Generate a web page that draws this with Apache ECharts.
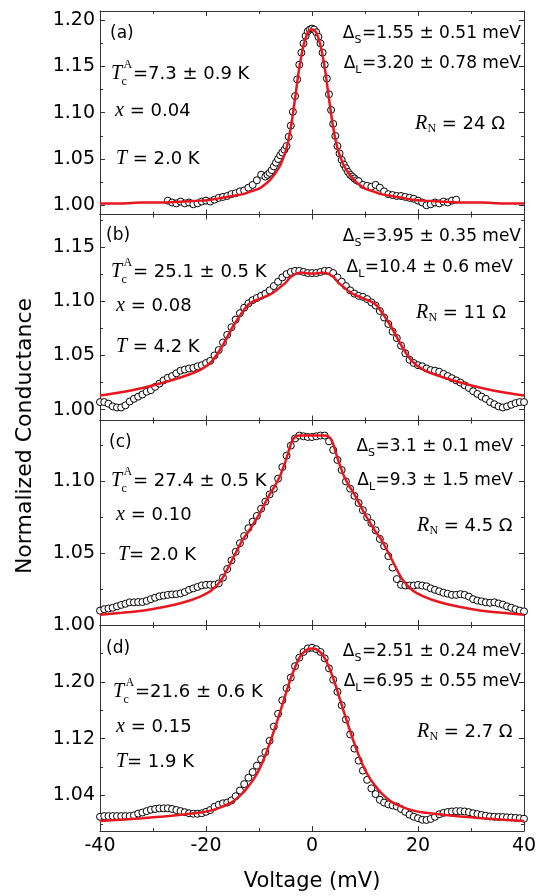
<!DOCTYPE html>
<html><head><meta charset="utf-8">
<script src="https://cdn.jsdelivr.net/npm/echarts@6/dist/echarts.min.js"></script>
<style>html,body{margin:0;padding:0;background:#fff}#c{width:544px;height:896px}</style>
</head><body><div id="c"></div>
<script>
// ---------- data ----------
const voltageA = [-27.2,-26.4,-25.6,-24.8,-24,-23.2,-22.4,-21.6,-20.8,-20,-19.2,-18.4,-17.6,-16.8,-16,-15.2,-14.4,-13.6,-12.8,-12,-11.2,-10.4,-9.6,-8.8,
  -8.4,-8,-7.6,-7.2,-6.8,-6.4,-6,-5.6,-5.2,-4.8,-4.4,-4,-3.6,-3.2,-2.8,-2.4,-2,-1.6,-1.2,-0.8,-0.4,0,0.4,0.8,1.2,1.6,2,2.4,2.8,3.2,3.6,4,4.4,4.8,5.2,5.6,6,6.4,6.8,7.2,7.6,8,8.4,
  8.8,9.6,10.4,11.2,12,12.8,13.6,14.4,15.2,16,16.8,17.6,18.4,19.2,20,20.8,21.6,22.4,23.2,24,24.8,25.6,26.4,27.2];
const condA = [1.005,1.003,1.002,1.004,1.002,1.003,1.001,1.002,1.004,1.005,1.004,1.006,1.008,1.009,1.010,1.012,1.013,1.015,1.016,1.019,1.022,1.027,1.033,1.031,
  1.033,1.035,1.038,1.042,1.046,1.050,1.054,1.057,1.060,1.064,1.074,1.086,1.101,1.118,1.136,1.152,1.165,1.175,1.183,1.188,1.190,1.191,1.190,1.187,1.182,1.175,1.165,1.152,1.137,1.120,1.103,1.088,1.075,1.064,1.056,1.049,1.044,1.040,1.036,1.033,1.031,1.029,1.027,
  1.026,1.022,1.021,1.020,1.022,1.019,1.015,1.012,1.011,1.010,1.010,1.009,1.008,1.007,1.005,1.003,1.000,1.001,1.003,1.002,1.004,1.003,1.005,1.006];

const voltage = [-40,-39.2,-38.4,-37.6,-36.8,-36,-35.2,-34.4,-33.6,-32.8,-32,-31.2,-30.4,-29.6,-28.8,-28,-27.2,-26.4,-25.6,-24.8,-24,-23.2,-22.4,-21.6,-20.8,-20,-19.2,-18.4,-17.6,-16.8,-16,-15.2,-14.4,-13.6,-12.8,-12,-11.2,-10.4,-9.6,-8.8,-8,-7.2,-6.4,-5.6,-4.8,-4,-3.2,-2.4,-1.6,-0.8,
  0,0.8,1.6,2.4,3.2,4,4.8,5.6,6.4,7.2,8,8.8,9.6,10.4,11.2,12,12.8,13.6,14.4,15.2,16,16.8,17.6,18.4,19.2,20,20.8,21.6,22.4,23.2,24,24.8,25.6,26.4,27.2,28,28.8,29.6,30.4,31.2,32,32.8,33.6,34.4,35.2,36,36.8,37.6,38.4,39.2,40];
const condB = [1.007,1.007,1.0055,1.003,1.002,1.002,1.004,1.0075,1.010,1.012,1.014,1.0165,1.018,1.021,1.024,1.027,1.0295,1.031,1.0335,1.036,1.037,1.038,1.0385,1.040,1.041,1.043,1.045,1.050,1.055,1.062,1.069,1.076,1.083,1.089,1.094,1.098,1.101,1.103,1.105,1.107,1.110,1.114,1.118,1.122,1.125,1.127,1.128,1.128,1.127,1.126,
  1.126,1.126,1.127,1.128,1.128,1.126,1.122,1.118,1.114,1.110,1.107,1.105,1.104,1.102,1.099,1.096,1.091,1.085,1.079,1.072,1.066,1.059,1.052,1.046,1.043,1.041,1.040,1.038,1.0365,1.036,1.035,1.033,1.031,1.029,1.027,1.025,1.0225,1.020,1.017,1.0145,1.012,1.010,1.007,1.005,1.003,1.002,1.003,1.0045,1.006,1.007,1.007];
const condC = [1.010,1.011,1.0115,1.012,1.013,1.014,1.0148,1.0158,1.0158,1.016,1.016,1.0168,1.018,1.019,1.020,1.0205,1.021,1.0213,1.0215,1.022,1.023,1.0245,1.0255,1.0265,1.0276,1.028,1.028,1.028,1.029,1.033,1.039,1.045,1.051,1.057,1.062,1.0675,1.072,1.076,1.081,1.086,1.091,1.095,1.102,1.110,1.118,1.125,1.130,1.132,1.1315,1.131,
  1.131,1.1315,1.132,1.132,1.128,1.122,1.115,1.108,1.100,1.095,1.090,1.085,1.080,1.075,1.071,1.066,1.060,1.055,1.048,1.040,1.032,1.028,1.0275,1.0275,1.0275,1.028,1.0275,1.027,1.0255,1.0245,1.0235,1.0225,1.0218,1.021,1.021,1.0215,1.021,1.0198,1.018,1.017,1.0165,1.0158,1.0155,1.0158,1.015,1.0142,1.013,1.012,1.011,1.010,1.0095];
const condD = [1.010,1.011,1.011,1.011,1.011,1.011,1.011,1.011,1.012,1.0145,1.016,1.018,1.020,1.021,1.0218,1.022,1.022,1.021,1.0195,1.018,1.0165,1.015,1.0143,1.0143,1.015,1.017,1.0195,1.024,1.027,1.029,1.030,1.033,1.039,1.047,1.056,1.065,1.073,1.082,1.091,1.101,1.117,1.137,1.155,1.174,1.191,1.206,1.222,1.234,1.242,1.247,
  1.248,1.246,1.242,1.233,1.219,1.203,1.186,1.167,1.147,1.126,1.106,1.089,1.075,1.062,1.050,1.042,1.034,1.030,1.0275,1.026,1.0245,1.021,1.017,1.013,1.010,1.008,1.0058,1.0055,1.007,1.010,1.0135,1.0155,1.0168,1.0175,1.018,1.018,1.0175,1.0165,1.015,1.0138,1.0125,1.0115,1.0105,1.010,1.0098,1.0097,1.0093,1.009,1.0085,1.008,1.0073];

const fitVoltage = [-40,-36,-32,-28,-24,-21,-19,-17,-15,-13,-12,-11,-10,-9,-8,-7,-6,-5.5,-5,-4.5,-4,-3.5,-3,-2.5,-2,-1.5,-1,-0.5,0,0.5,1,1.5,2,2.5,3,3.5,4,4.5,5,5.5,6,7,8,9,10,11,12,13,15,17,19,21,24,28,32,36,40];
const fitA = [1.002,1.002,1.003,1.003,1.004,1.005,1.006,1.008,1.010,1.012,1.014,1.016,1.018,1.022,1.027,1.034,1.043,1.050,1.058,1.069,1.084,1.103,1.124,1.145,1.162,1.175,1.184,1.189,1.190,
  1.189,1.184,1.175,1.162,1.145,1.124,1.103,1.084,1.069,1.058,1.050,1.043,1.034,1.027,1.022,1.018,1.016,1.014,1.012,1.010,1.008,1.006,1.005,1.004,1.003,1.003,1.002,1.002];
const fitB = [1.013,1.016,1.020,1.025,1.031,1.037,1.044,1.058,1.076,1.091,1.097,1.100,1.102,1.104,1.106,1.109,1.113,1.115,1.117,1.120,1.1225,1.124,1.1255,1.126,1.1265,1.126,1.1258,1.1255,1.1255,
  1.1255,1.1258,1.126,1.1265,1.126,1.1255,1.124,1.1225,1.120,1.117,1.115,1.113,1.109,1.106,1.104,1.102,1.100,1.097,1.091,1.076,1.058,1.044,1.037,1.031,1.025,1.020,1.016,1.013];
const fitC = [1.0072,1.0085,1.010,1.0125,1.016,1.020,1.024,1.032,1.046,1.060,1.065,1.071,1.077,1.084,1.091,1.097,1.104,1.109,1.114,1.120,1.126,1.130,1.1315,1.132,1.132,1.132,1.132,1.132,1.132,
  1.132,1.132,1.132,1.132,1.132,1.1315,1.130,1.126,1.120,1.114,1.109,1.104,1.097,1.091,1.084,1.077,1.071,1.065,1.060,1.046,1.032,1.024,1.020,1.016,1.0125,1.010,1.0085,1.0072];
const fitD = [1.004,1.006,1.008,1.0105,1.0135,1.016,1.019,1.024,1.031,1.044,1.053,1.063,1.076,1.093,1.113,1.135,1.158,1.170,1.182,1.194,1.205,1.215,1.224,1.232,1.238,1.242,1.245,1.2465,1.247,
  1.2465,1.245,1.242,1.238,1.232,1.224,1.215,1.205,1.194,1.182,1.170,1.158,1.135,1.113,1.093,1.076,1.063,1.053,1.044,1.031,1.024,1.019,1.016,1.0135,1.0105,1.008,1.006,1.004];

const yMajorA = [1.00,1.05,1.10,1.15,1.20], yMinorA = [1.025,1.075,1.125,1.175];
const yMajorB = [1.00,1.05,1.10,1.15],      yMinorB = [1.025,1.075,1.125,1.175];
const yMajorC = [1.00,1.05,1.10],           yMinorC = [1.025,1.075,1.125];
const yMajorD = [1.04,1.12,1.20],           yMinorD = [1.00,1.08,1.16,1.24];
const yRangeA = [0.99,1.21], yRangeB = [0.99,1.18], yRangeC = [1.00,1.1425], yRangeD = [0.99,1.28];
const xRange = [-40,40], xStep = 20;

// ---------- layout ----------
const panels = [
  {v: voltageA, c: condA, fit: fitA, major: yMajorA, minor: yMinorA, range: yRangeA, top: 11,    h: 203.5},
  {v: voltage,  c: condB, fit: fitB, major: yMajorB, minor: yMinorB, range: yRangeB, top: 214.5, h: 206},
  {v: voltage,  c: condC, fit: fitC, major: yMajorC, minor: yMinorC, range: yRangeC, top: 420.5, h: 204.5},
  {v: voltage,  c: condD, fit: fitD, major: yMajorD, minor: yMinorD, range: yRangeD, top: 625,   h: 206}
];
const AX = '#333', SANS = 'DejaVu Sans', SERIF = 'Liberation Serif';
const zip = (a, b) => a.map((x, i) => [x, b[i]]);

const grid = [], xAxis = [], yAxis = [], series = [];
panels.forEach((p, i) => {
  grid.push({left: 100, width: 424, top: p.top, height: p.h, outerBoundsMode: 'none', containLabel: false});
  ['bottom', 'top'].forEach(pos => xAxis.push({
    gridIndex: i, type: 'value', min: xRange[0], max: xRange[1], interval: xStep, position: pos,
    axisLine: {onZero: false, lineStyle: {color: AX, width: 1}},
    axisTick: {inside: true, length: 5, lineStyle: {color: AX, width: 1}},
    minorTick: {show: true, splitNumber: 2, length: 3, lineStyle: {color: AX, width: 1}},
    axisLabel: {show: pos === 'bottom' && i === 3, color: '#000', fontFamily: SANS, fontSize: 19, margin: 6},
    splitLine: {show: false}, minorSplitLine: {show: false}
  }));
  ['left', 'right'].forEach(pos => {
    yAxis.push({
      gridIndex: i, type: 'value', min: p.range[0], max: p.range[1], position: pos,
      axisLine: {show: true, onZero: false, lineStyle: {color: AX, width: 1}},
      axisTick: {show: true, inside: true, length: 5, customValues: p.major, lineStyle: {color: AX, width: 1}},
      axisLabel: {show: pos === 'left', customValues: p.major, formatter: v => v.toFixed(2), color: '#000', fontFamily: SANS, fontSize: 19, margin: 5},
      splitLine: {show: false}
    });
    yAxis.push({
      gridIndex: i, type: 'value', min: p.range[0], max: p.range[1], position: pos,
      axisLine: {show: false, onZero: false},
      axisTick: {show: true, inside: true, length: 3, customValues: p.minor, lineStyle: {color: AX, width: 1}},
      axisLabel: {show: false}, splitLine: {show: false}
    });
  });
  series.push({
    type: 'scatter', xAxisIndex: i * 2, yAxisIndex: i * 4, data: zip(p.v, p.c),
    symbol: 'circle', symbolSize: 7, silent: true, z: 2,
    itemStyle: {color: '#fff', borderColor: '#000', borderWidth: 1, opacity: 1}
  });
  series.push({
    type: 'line', xAxisIndex: i * 2, yAxisIndex: i * 4, data: zip(fitVoltage, p.fit),
    showSymbol: false, smooth: 0.25, silent: true, z: 3,
    lineStyle: {color: '#e8161e', width: 2.5}
  });
});

// ---------- annotations ----------
const cv = document.createElement('canvas').getContext('2d');
const tw = (s, font) => { cv.font = font; return cv.measureText(s).width; };
const fnt = (size, serif, italic) => (italic ? 'italic ' : '') + size + 'px "' + (serif ? SERIF : SANS) + '"';
function T(x, y, s, font, align, extra) {
  return Object.assign({type: 'text', x, y, silent: true, z: 100,
    style: {text: s, font, fill: '#000', textAlign: align || 'left', textVerticalAlign: 'middle', align: align || 'left', verticalAlign: 'middle'}}, extra || {});
}
function tcLine(x0, y, rest) {
  return [T(x0, y, 'T', fnt(20, 1, 1)), T(x0 + 10.5, y + 8, 'c', fnt(12, 1, 0)), T(x0 + 12.5, y - 9, 'A', fnt(12, 1, 0)), T(x0 + 22, y, rest, fnt(18))];
}
function varLine(x0, y, sym, rest) { // italic serif symbol + sans text
  return [T(x0, y, sym, fnt(20, 1, 1)), T(x0 + (sym === 'x' ? 9 : 11), y, rest, fnt(18))];
}
function rnLine(x0, y, rest) {
  return [T(x0, y, 'R', fnt(20, 1, 1)), T(x0 + 12.5, y + 5, 'N', fnt(12, 1, 0)), T(x0 + 21, y, rest, fnt(18))];
}
function deltaLine(right, y, sub, rest) {
  const fm = fnt(17), fs = fnt(11);
  const xr = right - tw(rest, fm), xs = xr - tw(sub, fs) - 0.5, xd = xs - tw('Δ', fm);
  return [T(xd, y, 'Δ', fm), T(xs, y + 6, sub, fs), T(xr, y, rest, fm)];
}
const graphic = [].concat(
  [T(110, 34, '(a)', fnt(17))], tcLine(111, 74, '=7.3 ± 0.9 K'), varLine(115, 111, 'x', ' = 0.04'), varLine(116, 159, 'T', ' = 2.0 K'),
  deltaLine(521, 34, 'S', '=1.55 ± 0.51 meV'), deltaLine(521, 64, 'L', '=3.20 ± 0.78 meV'), rnLine(415, 124, ' = 24 Ω'),

  [T(106, 236, '(b)', fnt(17))], tcLine(111, 272, '= 25.1 ± 0.5 K'), varLine(116, 306, 'x', ' = 0.08'), varLine(116, 347, 'T', ' = 4.2 K'),
  deltaLine(521, 237, 'S', '=3.95 ± 0.35 meV'), deltaLine(513, 268, 'L', '=10.4 ± 0.6 meV'), rnLine(416, 313, ' = 11 Ω'),

  [T(109, 443, '(c)', fnt(17))], tcLine(111, 481, '= 27.4 ± 0.5 K'), varLine(116, 515, 'x', ' = 0.10'), varLine(118, 555, 'T', '= 2.0 K'),
  deltaLine(513, 447, 'S', '=3.1 ± 0.1 meV'), deltaLine(513, 481, 'L', '=9.3 ± 1.5 meV'), rnLine(417, 526, ' = 4.5 Ω'),

  [T(106, 649, '(d)', fnt(17))], tcLine(113, 692, '=21.6 ± 0.6 K'), varLine(116, 727, 'x', ' = 0.15'), varLine(116, 762, 'T', '= 1.9 K'),
  deltaLine(521, 652, 'S', '=2.51 ± 0.24 meV'), deltaLine(521, 682, 'L', '=6.95 ± 0.55 meV'), rnLine(417, 732, ' = 2.7 Ω'),

  [T(25, 436, 'Normalized Conductance', fnt(22), 'center', {rotation: Math.PI / 2}),
   T(312, 882, 'Voltage (mV)', fnt(21), 'center')]
);

const chart = echarts.init(document.getElementById('c'), null, {renderer: 'canvas'});
chart.setOption({
  animation: false,
  backgroundColor: '#fff',
  textStyle: {fontFamily: SANS},
  grid, xAxis, yAxis, series, graphic
});
</script></body></html>
